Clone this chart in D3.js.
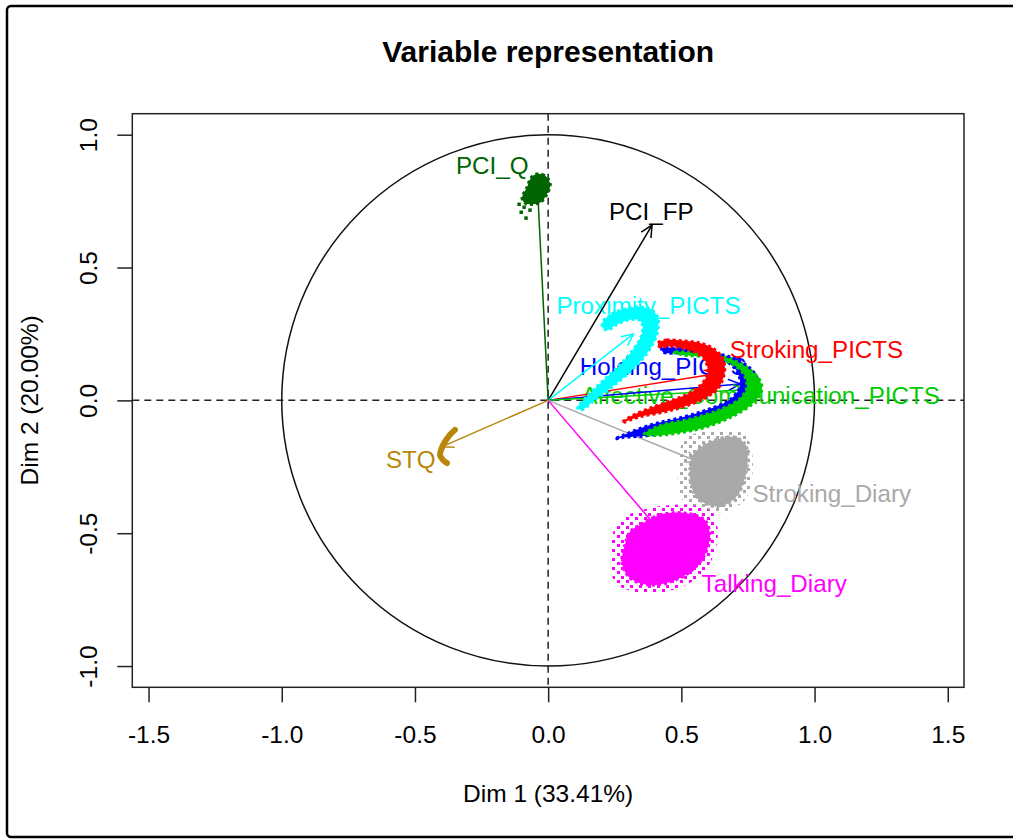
<!DOCTYPE html>
<html>
<head>
<meta charset="utf-8">
<script src="https://cdn.jsdelivr.net/npm/d3@7"></script>
<style>
  body { margin: 0; background: #fff; }
  text { font-family: "Liberation Sans", Arial, sans-serif; }
</style>
</head>
<body>
<div id="chart"></div>
<script>
"use strict";

// variables and their coordinates on the first two dimensions
var variables = ["PCI_Q", "PCI_FP", "Proximity_PICTS", "Stroking_PICTS", "Holding_PICTS",
	"Affective_Communication_PICTS", "Stroking_Diary", "Talking_Diary", "STQ"];
var dim1 = [-0.04, 0.39, 0.32, 0.63, 0.72, 0.74, 0.56, 0.41, -0.40];
var dim2 = [0.80, 0.66, 0.25, 0.10, 0.062, 0.04, -0.23, -0.48, -0.175];
// where R put the label of each variable (start of text, baseline)
var labelX = [-0.346, 0.228, 0.031, 0.682, 0.119, 0.125, 0.767, 0.576, -0.609];
var labelY = [0.852, 0.679, 0.325, 0.158, 0.096, -0.015, -0.383, -0.721, -0.255];

var xTicks = [-1.5, -1.0, -0.5, 0.0, 0.5, 1.0, 1.5];
var yTicks = [-1.0, -0.5, 0.0, 0.5, 1.0];

// outlines of the bootstrap clouds
var cloudProximity = [[0.205, 0.295], [0.239, 0.325], [0.288, 0.344], [0.344, 0.352], [0.389, 0.340],
	[0.412, 0.310], [0.412, 0.265], [0.397, 0.220], [0.363, 0.167], [0.307, 0.107], [0.239, 0.050],
	[0.175, 0.002], [0.126, -0.036], [0.111, -0.029], [0.149, 0.017], [0.205, 0.073], [0.269, 0.133],
	[0.318, 0.190], [0.348, 0.239], [0.355, 0.280], [0.340, 0.303], [0.307, 0.303], [0.262, 0.288],
	[0.224, 0.265], [0.205, 0.273]];
var cloudStroking = [[0.412, 0.216], [0.445, 0.227], [0.505, 0.224], [0.569, 0.216], [0.618, 0.197],
	[0.652, 0.163], [0.663, 0.126], [0.655, 0.077], [0.633, 0.039], [0.580, 0.004], [0.505, -0.025],
	[0.430, -0.045], [0.344, -0.062], [0.277, -0.084], [0.307, -0.062], [0.393, -0.025], [0.468, 0.002],
	[0.532, 0.028], [0.580, 0.066], [0.599, 0.107], [0.588, 0.152], [0.558, 0.178], [0.505, 0.197],
	[0.457, 0.205], [0.419, 0.201]];
var cloudHolding = [[0.427, 0.197], [0.494, 0.194], [0.595, 0.182], [0.693, 0.160], [0.757, 0.122],
	[0.787, 0.077], [0.787, 0.032], [0.746, -0.022], [0.671, -0.058], [0.569, -0.095], [0.468, -0.115],
	[0.370, -0.133], [0.280, -0.140], [0.250, -0.146], [0.382, -0.093], [0.494, -0.066], [0.595, -0.036],
	[0.682, 0.002], [0.719, 0.050], [0.712, 0.103], [0.671, 0.145], [0.595, 0.171], [0.505, 0.178],
	[0.430, 0.182]];
var cloudAffective = [[0.468, 0.182], [0.569, 0.178], [0.671, 0.160], [0.749, 0.122], [0.794, 0.077],
	[0.802, 0.039], [0.768, -0.012], [0.693, -0.060], [0.595, -0.100], [0.494, -0.122], [0.408, -0.132],
	[0.360, -0.128], [0.419, -0.095], [0.532, -0.070], [0.644, -0.035], [0.719, 0.006], [0.746, 0.050],
	[0.731, 0.103], [0.682, 0.141], [0.595, 0.163], [0.505, 0.171]];
var cloudStrokingDiary = [[0.569, -0.179], [0.626, -0.149], [0.701, -0.138], [0.742, -0.168], [0.749, -0.224],
	[0.738, -0.292], [0.712, -0.356], [0.663, -0.394], [0.614, -0.398], [0.569, -0.375], [0.539, -0.330],
	[0.532, -0.262], [0.543, -0.206]];
var haloStrokingDiary = [[0.509, -0.149], [0.569, -0.119], [0.663, -0.111], [0.738, -0.130], [0.764, -0.187],
	[0.764, -0.300], [0.738, -0.375], [0.663, -0.420], [0.588, -0.431], [0.532, -0.405], [0.494, -0.356],
	[0.487, -0.262], [0.494, -0.194]];
var cloudTalking = [[0.344, -0.469], [0.419, -0.431], [0.513, -0.424], [0.588, -0.450], [0.607, -0.507],
	[0.588, -0.582], [0.532, -0.646], [0.457, -0.684], [0.374, -0.695], [0.307, -0.669], [0.277, -0.612],
	[0.288, -0.544], [0.307, -0.495]];
var haloTalking = [[0.269, -0.450], [0.382, -0.405], [0.532, -0.394], [0.614, -0.420], [0.637, -0.488],
	[0.614, -0.601], [0.550, -0.676], [0.438, -0.721], [0.325, -0.721], [0.250, -0.684], [0.239, -0.601],
	[0.239, -0.518]];
var cloudPCIQ = [[-0.042, 0.852], [-0.022, 0.850], [-0.003, 0.838], [0.008, 0.811], [0.000, 0.785],
	[-0.012, 0.764], [-0.031, 0.744], [-0.082, 0.740], [-0.098, 0.760], [-0.079, 0.803], [-0.063, 0.840]];
var strayPCIQ = [[-0.102, 0.709], [-0.084, 0.687], [-0.091, 0.728], [-0.069, 0.717], [-0.110, 0.739]];
var hookSTQ = [[-0.350, -0.111], [-0.369, -0.130], [-0.388, -0.157], [-0.399, -0.179], [-0.406, -0.206],
	[-0.395, -0.224], [-0.380, -0.236]];

var colours = ["#006400", "#000000", "#00FFFF", "#FF0000", "#0000FF", "#00CD00", "#A9A9A9", "#FF00FF", "#B8860B"];

var W = 1013, H = 840;
var svg = d3.select("#chart").append("svg")
	.attr("width", W).attr("height", H);

// sparse speckle fill for the cloud fringes
var defs = svg.append("defs");
function speckle(id, col) {
	var p = defs.append("pattern").attr("id", id)
		.attr("patternUnits", "userSpaceOnUse").attr("width", 9).attr("height", 9);
	p.append("rect").attr("x", 0).attr("y", 0).attr("width", 3).attr("height", 3).attr("fill", col);
	p.append("rect").attr("x", 5).attr("y", 4).attr("width", 3).attr("height", 3).attr("fill", col);
}
speckle("spGray", colours[6]);
speckle("spMag", colours[7]);

// outer frame of the original figure
svg.append("rect")
	.attr("x", 7).attr("y", 6).attr("width", 1040).attr("height", 831)
	.attr("rx", 4)
	.attr("fill", "none").attr("stroke", "#000").attr("stroke-width", 2.5);

var x = d3.scaleLinear().domain([-1.561, 1.561]).range([132.3, 964]);
var y = d3.scaleLinear().domain([-1.08, 1.079]).range([687.3, 113.7]);

// axes
svg.append("g")
	.attr("transform", "translate(0," + y.range()[0] + ")")
	.call(d3.axisBottom(x).tickValues(xTicks).tickSize(15).tickPadding(23)
		.tickFormat(function (d) { return d.toFixed(1); }))
	.call(function (g) { g.select(".domain").remove(); })
	.call(function (g) {
		g.selectAll("line").attr("stroke", "#222").attr("stroke-width", 1.5);
		g.selectAll("text").attr("font-size", 24.5).attr("fill", "#000")
			.style("font-family", "Liberation Sans, Arial, sans-serif");
	});

svg.append("g")
	.attr("transform", "translate(" + x.range()[0] + ",0)")
	.call(d3.axisLeft(y).tickValues(yTicks).tickSize(15)
		.tickFormat(function (d) { return d.toFixed(1); }))
	.call(function (g) { g.select(".domain").remove(); })
	.call(function (g) {
		g.selectAll("line").attr("stroke", "#222").attr("stroke-width", 1.5);
		g.selectAll("text")
			.attr("transform", "rotate(-90)")
			.attr("x", 0).attr("y", -35).attr("dy", 0)
			.attr("text-anchor", "middle")
			.attr("font-size", 24.5).attr("fill", "#000")
			.style("font-family", "Liberation Sans, Arial, sans-serif");
	});

// plot box
svg.append("rect")
	.attr("x", x.range()[0]).attr("y", y.range()[1])
	.attr("width", x.range()[1] - x.range()[0])
	.attr("height", y.range()[0] - y.range()[1])
	.attr("fill", "none").attr("stroke", "#222").attr("stroke-width", 1.5);

// dashed axes through the origin
svg.append("line")
	.attr("x1", x(0)).attr("x2", x(0)).attr("y1", y.range()[1]).attr("y2", y.range()[0])
	.attr("stroke", "#222").attr("stroke-width", 1.5).attr("stroke-dasharray", "7,5");
svg.append("line")
	.attr("x1", x.range()[0]).attr("x2", x.range()[1]).attr("y1", y(0)).attr("y2", y(0))
	.attr("stroke", "#222").attr("stroke-width", 1.5).attr("stroke-dasharray", "7,5");

// correlation circle
svg.append("ellipse")
	.attr("cx", x(0)).attr("cy", y(0))
	.attr("rx", x(1) - x(0)).attr("ry", y(0) - y(1))
	.attr("fill", "none").attr("stroke", "#111").attr("stroke-width", 1.5);

// titles
svg.append("text")
	.attr("x", x(0)).attr("y", 62)
	.attr("text-anchor", "middle")
	.attr("font-size", 30).attr("font-weight", "bold")
	.text("Variable representation");
svg.append("text")
	.attr("x", x(0)).attr("y", 802)
	.attr("text-anchor", "middle").attr("font-size", 24.5)
	.text("Dim 1 (33.41%)");
svg.append("text")
	.attr("transform", "translate(38," + y(0) + ") rotate(-90)")
	.attr("text-anchor", "middle").attr("font-size", 24.5)
	.text("Dim 2 (20.00%)");

// variable labels
svg.selectAll(".lab")
	.data(variables)
	.enter().append("text")
	.attr("class", "lab")
	.attr("x", function (d, i) { return x(labelX[i]); })
	.attr("y", function (d, i) { return y(labelY[i]); })
	.attr("font-size", 24.2)
	.attr("fill", function (d, i) { return colours[i]; })
	.text(function (d) { return d; });

// arrows from the origin (drawn under the clouds)
var headLen = 13, headAng = Math.PI / 7;
variables.forEach(function (v, i) {
	var x0 = x(0), y0 = y(0), x1 = x(dim1[i]), y1 = y(dim2[i]);
	var a = Math.atan2(y1 - y0, x1 - x0);
	var g = svg.append("g")
		.attr("stroke", colours[i]).attr("stroke-width", 1.5).attr("fill", "none");
	g.append("line").attr("x1", x0).attr("y1", y0).attr("x2", x1).attr("y2", y1);
	g.append("path")
		.attr("d", "M" + (x1 - headLen * Math.cos(a - headAng)) + "," + (y1 - headLen * Math.sin(a - headAng)) +
			"L" + x1 + "," + y1 +
			"L" + (x1 - headLen * Math.cos(a + headAng)) + "," + (y1 - headLen * Math.sin(a + headAng)));
});

// clouds
var shape = d3.line()
	.x(function (d) { return x(d[0]); })
	.y(function (d) { return y(d[1]); })
	.curve(d3.curveCatmullRomClosed);
var open = d3.line()
	.x(function (d) { return x(d[0]); })
	.y(function (d) { return y(d[1]); })
	.curve(d3.curveCatmullRom);

function halo(pts, pat) {
	svg.append("path").attr("d", shape(pts))
		.attr("fill", "url(#" + pat + ")").attr("stroke", "none");
}
function cloud(pts, col) {
	svg.append("path").attr("d", shape(pts))
		.attr("fill", col)
		.attr("stroke", col).attr("stroke-width", 3).attr("stroke-dasharray", "3,3");
}

halo(haloStrokingDiary, "spGray");
cloud(cloudStrokingDiary, colours[6]);
halo(haloTalking, "spMag");
cloud(cloudTalking, colours[7]);
cloud(cloudHolding, colours[4]);
cloud(cloudAffective, colours[5]);
cloud(cloudStroking, colours[3]);
cloud(cloudProximity, colours[2]);
cloud(cloudPCIQ, colours[0]);

svg.selectAll(".stray")
	.data(strayPCIQ)
	.enter().append("rect")
	.attr("class", "stray")
	.attr("x", function (d) { return x(d[0]) - 1.5; })
	.attr("y", function (d) { return y(d[1]) - 1.5; })
	.attr("width", 3.5).attr("height", 3.5)
	.attr("fill", colours[0]);

svg.append("path").attr("d", open(hookSTQ))
	.attr("fill", "none").attr("stroke", colours[8])
	.attr("stroke-width", 6).attr("stroke-linecap", "round");
</script>
</body>
</html>
